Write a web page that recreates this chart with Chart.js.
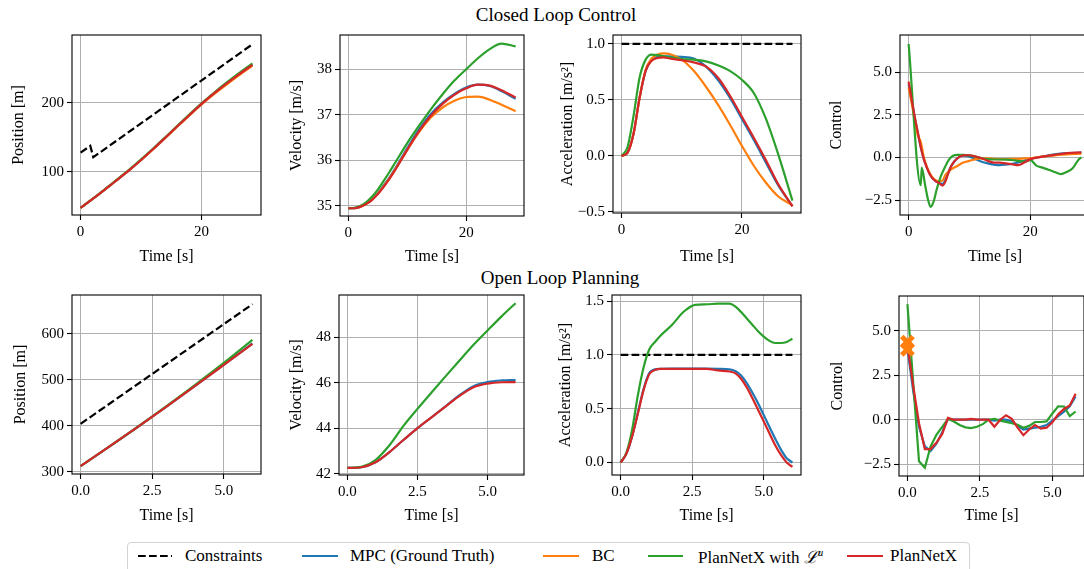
<!DOCTYPE html>
<html>
<head>
<meta charset="utf-8">
<script src="https://cdn.jsdelivr.net/npm/chart.js@4.4.1/dist/chart.umd.min.js"></script>
<style>
    body { margin: 0; width: 1084px; height: 569px; overflow: hidden; background: #fff; position: relative; font-family: "Liberation Serif", serif; color: #000; }
    canvas { position: absolute; }
    .suptitle { position: absolute; font-size: 19px; white-space: nowrap; transform: translate(-50%, -50%); }
    #legend { position: absolute; left: 127px; top: 542px; width: 841px; height: 40px; border: 1px solid #d3d3d3; border-radius: 4px; }
    .lg-line { position: absolute; }
    .lg-text { position: absolute; font-size: 17px; white-space: nowrap; transform: translateY(-50%); font-family: "Liberation Serif", serif; }
</style>
</head>
<body>
<div class="suptitle" style="left:556px; top:15px;">Closed Loop Control</div>
<div class="suptitle" style="left:560px; top:278px;">Open Loop Planning</div>
<div id="legend"></div>

<script>
// ---- closed loop data ----
const tCL = [0, 1, 2, 3, 4, 5, 6, 7, 8, 10, 12, 14, 16, 18, 20, 22, 24, 26, 28.4];

const posBlueCL   = [47.5, 54.0, 60.6, 67.3, 74.1, 81.0, 87.9, 95.0, 102.0, 117.0, 132.8, 149.2, 165.8, 182.2, 198.2, 213.0, 226.8, 239.8, 254.8];
const posOrangeCL = [47.5, 54.0, 60.6, 67.3, 74.1, 81.0, 87.9, 95.0, 102.0, 117.0, 132.7, 149.0, 165.4, 181.6, 197.3, 211.8, 225.4, 238.4, 253.5];
const posGreenCL  = [47.5, 54.0, 60.7, 67.5, 74.4, 81.4, 88.4, 95.5, 102.6, 117.8, 133.6, 150.0, 166.6, 183.0, 199.0, 214.0, 228.2, 241.8, 257.0];
const posRedCL    = [47.5, 54.0, 60.6, 67.3, 74.1, 81.0, 87.9, 95.0, 102.0, 117.0, 132.8, 149.2, 165.8, 182.2, 198.2, 213.0, 226.8, 239.8, 254.8];
const tConPosCL = [0, 1.6, 2.1, 28.4];
const conPosCL  = [127.5, 137.5, 121, 284.5];

const velBlueCL   = [34.95, 34.95, 34.98, 35.05, 35.15, 35.28, 35.45, 35.63, 35.83, 36.27, 36.68, 37.02, 37.27, 37.46, 37.6, 37.66, 37.63, 37.52, 37.35];
const velOrangeCL = [34.95, 34.95, 34.98, 35.04, 35.14, 35.27, 35.43, 35.61, 35.81, 36.23, 36.62, 36.94, 37.16, 37.31, 37.39, 37.4, 37.33, 37.22, 37.08];
const velGreenCL  = [34.95, 34.96, 35.0, 35.08, 35.2, 35.36, 35.55, 35.75, 35.96, 36.38, 36.76, 37.12, 37.45, 37.75, 38.0, 38.24, 38.44, 38.56, 38.5];
const velRedCL    = [34.95, 34.95, 34.98, 35.04, 35.13, 35.26, 35.42, 35.6, 35.8, 36.23, 36.64, 36.98, 37.24, 37.44, 37.58, 37.66, 37.64, 37.54, 37.38];

const accBlueCL   = [0, 0.03, 0.2, 0.52, 0.76, 0.86, 0.885, 0.89, 0.89, 0.885, 0.87, 0.8, 0.68, 0.52, 0.33, 0.14, -0.06, -0.26, -0.45];
const accOrangeCL = [0, 0.03, 0.2, 0.52, 0.77, 0.87, 0.905, 0.915, 0.91, 0.86, 0.76, 0.62, 0.46, 0.28, 0.09, -0.09, -0.24, -0.36, -0.44];
const accGreenCL  = [0, 0.08, 0.36, 0.7, 0.86, 0.905, 0.9, 0.89, 0.88, 0.865, 0.86, 0.845, 0.81, 0.76, 0.68, 0.56, 0.33, 0.02, -0.4];
const accRedCL    = [0, 0.03, 0.2, 0.52, 0.76, 0.85, 0.875, 0.88, 0.87, 0.855, 0.835, 0.8, 0.7, 0.54, 0.35, 0.16, -0.04, -0.25, -0.45];
const tConAccCL = [0, 28.4];
const conAccCL  = [1, 1];

const tCtlCL = [0, 0.5, 1, 1.5, 2, 2.5, 3, 3.5, 4, 4.5, 5, 5.6, 6, 6.5, 7, 8, 9, 10, 11, 12, 13, 14, 15, 16, 17, 18, 19, 20, 22, 24, 26, 28.4];
const ctlBlueCL   = [4.3, 3.3, 2.35, 1.45, 0.6, -0.1, -0.6, -1.0, -1.25, -1.4, -1.5, -1.55, -1.35, -0.9, -0.5, -0.05, 0.1, 0.05, -0.1, -0.25, -0.35, -0.42, -0.45, -0.42, -0.38, -0.3, -0.18, -0.08, 0.05, 0.18, 0.25, 0.28];
const ctlOrangeCL = [4.1, 3.2, 2.2, 1.3, 0.9, 0.0, -0.55, -0.95, -1.2, -1.35, -1.4, -1.35, -1.05, -0.85, -0.7, -0.5, -0.3, -0.2, -0.1, -0.05, -0.05, -0.08, -0.1, -0.1, -0.08, -0.08, -0.06, -0.05, 0.05, 0.12, 0.18, 0.22];
const ctlRedCL    = [4.45, 3.4, 2.4, 1.5, 0.6, -0.1, -0.6, -1.0, -1.25, -1.4, -1.5, -1.65, -1.45, -0.95, -0.5, -0.05, 0.12, 0.13, 0.05, -0.05, -0.2, -0.3, -0.3, -0.35, -0.4, -0.45, -0.3, -0.1, 0.05, 0.15, 0.25, 0.3];
const tCtlGreenCL = [0, 2.0, 2.15, 2.7, 3.2, 3.6, 4.1, 4.6, 5.3, 6.0, 6.6, 7.3, 8, 9, 10, 11, 12, 13, 14, 15, 16, 17, 18, 19, 20, 21, 22, 23, 24, 25, 26, 27, 28, 28.4];
const ctlGreenCL  = [6.66, -1.63, -0.6, -1.6, -2.5, -2.9, -2.6, -1.9, -1.1, -0.55, -0.15, 0.1, 0.15, 0.15, 0.12, 0.05, -0.05, -0.1, -0.12, -0.12, -0.13, -0.15, -0.2, -0.25, -0.16, -0.48, -0.6, -0.72, -0.85, -0.98, -0.85, -0.62, -0.1, 0.0];

// ---- open loop data ----
const tPosOL = [0, 1, 2, 3, 4, 5, 6];
const posBlueOL  = [312, 354.35, 397.4, 441.4, 486.4, 532.3, 578.6];
const posGreenOL = [312, 354.4, 397.7, 442.5, 488.8, 536.4, 586.5];
const posRedOL   = [312, 354.35, 397.4, 441.4, 486.3, 532, 578];
const tConOL = [0, 6];
const conPosOL = [404, 664];

const tVelOL = [0, 0.5, 1, 1.5, 2, 2.5, 3, 3.5, 4, 4.5, 5, 5.5, 6];
const velBlueOL  = [42.25, 42.28, 42.5, 42.95, 43.48, 44.0, 44.48, 44.96, 45.45, 45.85, 46.03, 46.1, 46.12];
const velGreenOL = [42.25, 42.3, 42.6, 43.25, 44.1, 44.85, 45.57, 46.28, 46.98, 47.67, 48.3, 48.92, 49.5];
const velRedOL   = [42.25, 42.28, 42.5, 42.95, 43.48, 44.0, 44.48, 44.95, 45.42, 45.8, 45.96, 46.02, 46.03];

const tAccOL = [0, 0.2, 0.4, 0.6, 0.8, 1.0, 1.2, 1.4, 1.8, 2.2, 2.6, 3.0, 3.4, 3.8, 4.0, 4.2, 4.4, 4.6, 4.8, 5.0, 5.2, 5.4, 5.6, 5.8, 6.0];
const accBlueOL  = [0, 0.08, 0.24, 0.46, 0.68, 0.83, 0.865, 0.87, 0.872, 0.872, 0.872, 0.872, 0.87, 0.865, 0.85, 0.81, 0.74, 0.65, 0.55, 0.44, 0.33, 0.22, 0.12, 0.04, 0.0];
const accGreenOL = [0, 0.09, 0.3, 0.62, 0.88, 1.05, 1.12, 1.18, 1.28, 1.4, 1.465, 1.47, 1.475, 1.475, 1.45, 1.4, 1.34, 1.28, 1.22, 1.17, 1.13, 1.11, 1.11, 1.12, 1.15];
const accRedOL   = [0, 0.08, 0.24, 0.45, 0.67, 0.82, 0.86, 0.87, 0.87, 0.87, 0.87, 0.87, 0.855, 0.845, 0.83, 0.78, 0.7, 0.6, 0.49, 0.38, 0.27, 0.16, 0.07, 0.0, -0.04];
const conAccOL = [1, 1];

const tCtlOL = [0, 0.2, 0.4, 0.6, 0.8, 1.0, 1.2, 1.4, 1.6, 1.8, 2.0, 2.2, 2.4, 2.6, 2.8, 3.0, 3.2, 3.4, 3.6, 3.8, 4.0, 4.2, 4.4, 4.6, 4.8, 5.0, 5.2, 5.4, 5.6, 5.8];
const ctlBlueOL = [4.0, 1.6, -0.4, -1.5, -1.75, -1.35, -0.7, 0.05, 0.0, 0.0, 0.0, 0.0, 0.0, 0.0, 0.0, -0.05, 0.0, 0.0, -0.1, -0.35, -0.55, -0.5, -0.45, -0.4, -0.3, -0.05, 0.2, 0.45, 0.75, 1.3];
const ctlRedOL  = [4.2, 1.9, -0.2, -1.65, -1.65, -1.3, -0.8, 0.1, 0.0, 0.0, 0.0, 0.05, 0.0, 0.0, 0.0, -0.4, 0.0, 0.25, 0.05, -0.45, -0.87, -0.55, -0.3, -0.5, -0.45, -0.15, 0.3, 0.6, 0.8, 1.45];
const tCtlGreenOL = [0, 0.4, 0.6, 0.8, 1.0, 1.2, 1.4, 1.6, 1.8, 2.0, 2.2, 2.4, 2.6, 2.8, 3.0, 3.2, 3.4, 3.6, 3.8, 4.0, 4.2, 4.4, 4.6, 4.8, 5.0, 5.2, 5.4, 5.6, 5.8];
const ctlGreenOL = [6.48, -2.33, -2.7, -1.5, -0.85, -0.4, 0.05, -0.1, -0.3, -0.43, -0.47, -0.4, -0.25, 0.0, 0.05, -0.05, -0.12, -0.2, -0.28, -0.45, -0.35, -0.13, -0.13, -0.1, 0.35, 0.75, 0.74, 0.2, 0.46];
const tBcMark = [0, 0];
const ctlBcMark = [4.35, 3.95];

const BLUE = "#1f77b4", ORANGE = "#ff7f0e", GREEN = "#2ca02c", RED = "#d62728";
const FONT = "'Liberation Serif', serif";

Chart.defaults.font.family = FONT;
Chart.defaults.font.size = 15;
Chart.defaults.color = "#000";

function pts(ts, ys) {
    return ts.map((t, i) => ({ x: t, y: ys[i] }));
}

// order: lower number is drawn on top
function line(ts, ys, color, order, smooth) {
    return {
        data: pts(ts, ys),
        borderColor: color,
        borderWidth: 2.2,
        pointRadius: 0,
        fill: false,
        order: order,
        cubicInterpolationMode: smooth ? "monotone" : "default",
        tension: 0
    };
}

function constraint(ts, ys) {
    return {
        data: pts(ts, ys),
        borderColor: "#000",
        borderWidth: 2.2,
        borderDash: [7.7, 3.3],
        pointRadius: 0,
        fill: false,
        order: 5,
        tension: 0
    };
}

function fmt(v, dec) {
    return v.toFixed(dec).replace("-", "\u2212");
}

// draw the full box around the axes, like matplotlib spines
const frame = {
    id: "frame",
    afterDatasetsDraw(chart) {
        const { ctx, chartArea: a } = chart;
        ctx.save();
        ctx.strokeStyle = "#000";
        ctx.lineWidth = 1.1;
        ctx.strokeRect(a.left, a.top, a.right - a.left, a.bottom - a.top);
        ctx.restore();
    }
};

function axis(min, max, ticks, dec, title, fitKey, fitVal) {
    return {
        type: "linear",
        min: min,
        max: max,
        afterFit: s => { s[fitKey] = fitVal; },
        afterBuildTicks: s => { s.ticks = ticks.map(v => ({ value: v })); },
        ticks: {
            autoSkip: false,
            maxRotation: 0,
            padding: 3,
            color: "#000",
            font: { family: FONT, size: 15 },
            callback: v => fmt(v, dec)
        },
        grid: { color: "#b0b0b0", lineWidth: 1, tickColor: "#000", tickLength: 5, tickWidth: 1.1 },
        border: { display: false },
        title: { display: true, text: title, color: "#000", padding: 0, font: { family: FONT, size: 16 } }
    };
}

function panel(p, datasets) {
    const yW = Math.round(p.L - p.yTitleX + 9.6);
    const xH = Math.round(p.xTitleY - p.B + 9.6);
    const padT = 12, padR = 12;
    const c = document.createElement("canvas");
    const w = yW + (p.R - p.L) + padR;
    const h = padT + (p.B - p.T) + xH;
    c.width = w; c.height = h;
    c.style.width = w + "px"; c.style.height = h + "px";
    c.style.left = (p.L - yW) + "px";
    c.style.top = (p.T - padT) + "px";
    document.body.appendChild(c);
    new Chart(c, {
        type: "line",
        data: { datasets: datasets },
        options: {
            responsive: false,
            animation: false,
            layout: { padding: { top: padT, right: padR, left: 0, bottom: 0 } },
            plugins: { legend: { display: false }, tooltip: { enabled: false } },
            scales: {
                x: axis(p.xMin, p.xMax, p.xt, p.xDec, "Time [s]", "height", xH),
                y: axis(p.yMin, p.yMax, p.yt, p.yDec, p.yTitle, "width", yW)
            }
        },
        plugins: [frame]
    });
}

// top row: closed loop control
panel({ L: 72, T: 35, R: 261, B: 215, xMin: -1.42, xMax: 29.82, xt: [0, 20], xDec: 0,
        yMin: 37.3, yMax: 298, yt: [100, 200], yDec: 0, yTitle: "Position [m]", yTitleX: 18.3, xTitleY: 256 }, [
    constraint(tConPosCL, conPosCL),
    line(tCL, posBlueCL, BLUE, 4, true),
    line(tCL, posOrangeCL, ORANGE, 3, true),
    line(tCL, posGreenCL, GREEN, 2, true),
    line(tCL, posRedCL, RED, 1, true)
]);

panel({ L: 340, T: 35, R: 524, B: 216, xMin: -1.42, xMax: 29.82, xt: [0, 20], xDec: 0,
        yMin: 34.78, yMax: 38.75, yt: [35, 36, 37, 38], yDec: 0, yTitle: "Velocity [m/s]", yTitleX: 296.7, xTitleY: 256 }, [
    line(tCL, velBlueCL, BLUE, 4, true),
    line(tCL, velOrangeCL, ORANGE, 3, true),
    line(tCL, velGreenCL, GREEN, 2, true),
    line(tCL, velRedCL, RED, 1, true)
]);

panel({ L: 613, T: 35, R: 801, B: 213, xMin: -1.42, xMax: 29.82, xt: [0, 20], xDec: 0,
        yMin: -0.51, yMax: 1.08, yt: [-0.5, 0, 0.5, 1], yDec: 1, yTitle: "Acceleration [m/s\u00b2]", yTitleX: 568, xTitleY: 256 }, [
    constraint(tConAccCL, conAccCL),
    line(tCL, accBlueCL, BLUE, 4, true),
    line(tCL, accOrangeCL, ORANGE, 3, true),
    line(tCL, accGreenCL, GREEN, 2, true),
    line(tCL, accRedCL, RED, 1, true)
]);

panel({ L: 900, T: 35, R: 1090, B: 215, xMin: -1.42, xMax: 29.82, xt: [0, 20], xDec: 0,
        yMin: -3.38, yMax: 7.19, yt: [-2.5, 0, 2.5, 5], yDec: 1, yTitle: "Control", yTitleX: 836.7, xTitleY: 256 }, [
    line(tCtlCL, ctlBlueCL, BLUE, 4, true),
    line(tCtlCL, ctlOrangeCL, ORANGE, 3, true),
    line(tCtlGreenCL, ctlGreenCL, GREEN, 2, true),
    line(tCtlCL, ctlRedCL, RED, 1, true)
]);

// bottom row: open loop planning
panel({ L: 72, T: 295, R: 261, B: 474, xMin: -0.3, xMax: 6.3, xt: [0, 2.5, 5], xDec: 1,
        yMin: 295, yMax: 684, yt: [300, 400, 500, 600], yDec: 0, yTitle: "Position [m]", yTitleX: 20.7, xTitleY: 515 }, [
    constraint(tConOL, conPosOL),
    line(tPosOL, posBlueOL, BLUE, 4, true),
    line(tPosOL, posGreenOL, GREEN, 2, true),
    line(tPosOL, posRedOL, RED, 1, true)
]);

panel({ L: 339, T: 295, R: 524, B: 475, xMin: -0.3, xMax: 6.3, xt: [0, 2.5, 5], xDec: 1,
        yMin: 41.94, yMax: 49.86, yt: [42, 44, 46, 48], yDec: 0, yTitle: "Velocity [m/s]", yTitleX: 296.7, xTitleY: 515 }, [
    line(tVelOL, velBlueOL, BLUE, 4, true),
    line(tVelOL, velGreenOL, GREEN, 2, true),
    line(tVelOL, velRedOL, RED, 1, true)
]);

panel({ L: 612, T: 295, R: 801, B: 475, xMin: -0.3, xMax: 6.3, xt: [0, 2.5, 5], xDec: 1,
        yMin: -0.116, yMax: 1.556, yt: [0, 0.5, 1, 1.5], yDec: 1, yTitle: "Acceleration [m/s\u00b2]", yTitleX: 566, xTitleY: 515 }, [
    constraint(tConOL, conAccOL),
    line(tAccOL, accBlueOL, BLUE, 4, true),
    line(tAccOL, accGreenOL, GREEN, 2, true),
    line(tAccOL, accRedOL, RED, 1, true)
]);

panel({ L: 899, T: 295, R: 1085, B: 476, xMin: -0.29, xMax: 6.09, xt: [0, 2.5, 5], xDec: 1,
        yMin: -3.16, yMax: 6.94, yt: [-2.5, 0, 2.5, 5], yDec: 1, yTitle: "Control", yTitleX: 837.3, xTitleY: 515 }, [
    line(tCtlOL, ctlBlueOL, BLUE, 4, false),
    line(tCtlGreenOL, ctlGreenOL, GREEN, 2, false),
    line(tCtlOL, ctlRedOL, RED, 1, false),
    {
        data: pts(tBcMark, ctlBcMark),
        showLine: false,
        pointStyle: "crossRot",
        pointRadius: 8,
        pointBorderWidth: 5,
        pointBorderColor: ORANGE,
        pointBackgroundColor: ORANGE,
        order: 0
    }
]);

// legend (shared)
const legendItems = [
    { x0: 138, x1: 172, tx: 185, dash: true, color: "#000", html: "Constraints" },
    { x0: 302, x1: 338, tx: 350, color: BLUE, html: "MPC (Ground Truth)" },
    { x0: 543, x1: 579, tx: 592, color: ORANGE, html: "BC" },
    { x0: 648, x1: 683, tx: 698, color: GREEN, html: "PlanNetX with <i>\u2112</i><sup style=\"font-size:11px;font-style:italic\">u</sup>" },
    { x0: 847, x1: 883, tx: 890, color: RED, html: "PlanNetX" }
];
const legend = document.getElementById("legend");
const lgLeft = 128, lgTop = 543, lgMid = 555.5;
legendItems.forEach(it => {
    const svg = document.createElementNS("http://www.w3.org/2000/svg", "svg");
    svg.setAttribute("class", "lg-line");
    svg.setAttribute("width", it.x1 - it.x0);
    svg.setAttribute("height", 6);
    svg.style.left = (it.x0 - lgLeft) + "px";
    svg.style.top = (lgMid - lgTop - 3) + "px";
    const ln = document.createElementNS("http://www.w3.org/2000/svg", "line");
    ln.setAttribute("x1", 0); ln.setAttribute("x2", it.x1 - it.x0);
    ln.setAttribute("y1", 3); ln.setAttribute("y2", 3);
    ln.setAttribute("stroke", it.color);
    ln.setAttribute("stroke-width", 2.2);
    if (it.dash) ln.setAttribute("stroke-dasharray", "7.7 3.3");
    svg.appendChild(ln);
    legend.appendChild(svg);
    const tx = document.createElement("div");
    tx.className = "lg-text";
    tx.style.left = (it.tx - lgLeft) + "px";
    tx.style.top = (lgMid - lgTop) + "px";
    tx.innerHTML = it.html;
    legend.appendChild(tx);
});
</script>
</body>
</html>
